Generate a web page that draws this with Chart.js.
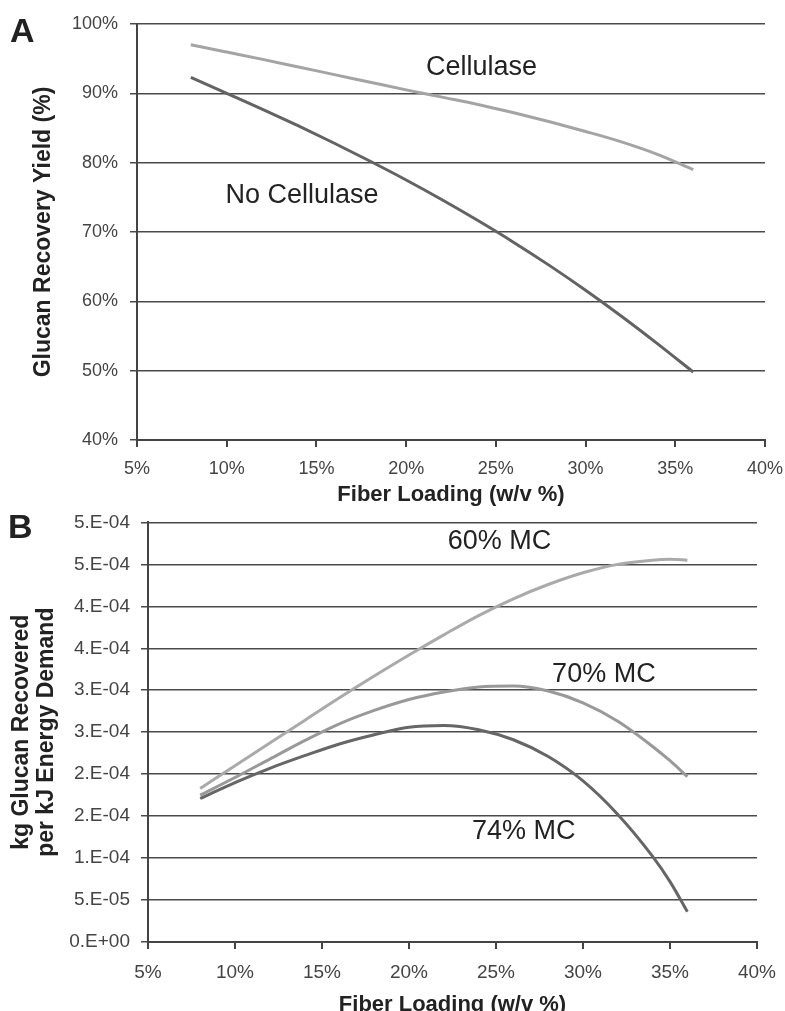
<!DOCTYPE html>
<html>
<head>
<meta charset="utf-8">
<script src="https://cdn.jsdelivr.net/npm/chart.js@4.4.1/dist/chart.umd.min.js"></script>
<style>
  html, body { margin: 0; padding: 0; background: #fff; overflow: hidden; }
  body { width: 785px; height: 1011px; position: relative; font-family: "Liberation Sans", Arial, sans-serif; }
  canvas { position: absolute; left: 0; }
  #chartA { top: 0; }
  #chartB { top: 500px; }
  .tag { position: absolute; font-weight: bold; font-size: 34px; line-height: 1; color: #222; }
</style>
</head>
<body>
<canvas id="chartA" width="785" height="510"></canvas>
<canvas id="chartB" width="785" height="520"></canvas>
<div class="tag" style="left:10px;top:13px">A</div>
<div class="tag" style="left:8px;top:509px">B</div>
<script>
// ---------------------------- data ----------------------------
// panel A: glucan recovery yield (%) vs fiber loading (w/v %)
const loadingA = [8, 10, 12, 14, 16, 18, 20, 22, 24, 26, 28, 30, 32, 34, 36]
const cellulase = [97.0, 95.95, 94.9, 93.8, 92.7, 91.6, 90.5, 89.45, 88.4, 87.2, 85.9, 84.5, 83.0, 81.2, 79.0]
const noCellulase = [92.3, 90.0, 87.7, 85.3, 82.8, 80.2, 77.5, 74.65, 71.65, 68.5, 65.15, 61.6, 57.85, 53.9, 49.8]
const ticksA = ['40%', '50%', '60%', '70%', '80%', '90%', '100%']

// panel B: kg glucan recovered per kJ energy demand
const loadingB = [8, 10, 12, 14, 16, 18, 20, 22, 24, 26, 28, 30, 32, 34, 35, 36]
const mc60 = [1.83e-4, 2.10e-4, 2.37e-4, 2.64e-4, 2.91e-4, 3.17e-4, 3.42e-4, 3.66e-4, 3.89e-4, 4.09e-4, 4.26e-4, 4.40e-4, 4.50e-4, 4.55e-4, 4.56e-4, 4.55e-4]
const mc70 = [1.75e-4, 1.96e-4, 2.18e-4, 2.40e-4, 2.60e-4, 2.76e-4, 2.89e-4, 2.98e-4, 3.04e-4, 3.05e-4, 2.99e-4, 2.85e-4, 2.63e-4, 2.33e-4, 2.16e-4, 1.97e-4]
const mc74 = [1.71e-4, 1.90e-4, 2.07e-4, 2.22e-4, 2.36e-4, 2.47e-4, 2.56e-4, 2.58e-4, 2.53e-4, 2.41e-4, 2.21e-4, 1.92e-4, 1.52e-4, 1.02e-4, 0.72e-4, 0.36e-4]
const ticksB = ['0.E+00', '5.E-05', '1.E-04', '2.E-04', '2.E-04', '3.E-04', '3.E-04', '4.E-04', '4.E-04', '5.E-04', '5.E-04']
const ticksX = ['5%', '10%', '15%', '20%', '25%', '30%', '35%', '40%']

// in-plot series names, anchored in data units
const namesA = [
  { text: 'Cellulase', x: 24.2, y: 93.7 },
  { text: 'No Cellulase', x: 14.2, y: 75.3 },
]
const namesB = [
  { text: '60% MC', x: 25.2, y: 4.77e-4 },
  { text: '70% MC', x: 31.2, y: 3.19e-4 },
  { text: '74% MC', x: 26.6, y: 1.32e-4 },
]

// ---------------------------- helpers ----------------------------
const FONT = '"Liberation Sans", Arial, sans-serif'
const tickFontA = { family: FONT, size: 18 }
const tickFontB = { family: FONT, size: 19 }
const titleFont = { family: FONT, size: 22, weight: 'bold', lineHeight: 1 }
const yTitleFont = { family: FONT, size: 23, weight: 'bold', lineHeight: 1.05 }

const pts = (xs, ys) => xs.map((x, i) => ({ x, y: ys[i] }))

const line = (data, color) => ({
  data, borderColor: color, borderWidth: 3, pointRadius: 0,
  cubicInterpolationMode: 'monotone', fill: false,
})

// draws the series names through the chart scales
const seriesNames = (items) => ({
  id: 'seriesNames',
  afterDatasetsDraw(chart) {
    const { ctx, scales: { x, y } } = chart
    ctx.save()
    ctx.font = '27px ' + FONT
    ctx.fillStyle = '#222'
    ctx.textAlign = 'center'
    ctx.textBaseline = 'middle'
    items.forEach((it) => ctx.fillText(it.text, x.getPixelForValue(it.x), y.getPixelForValue(it.y)))
    ctx.restore()
  },
})

// x axis: fixed height, end labels allowed to hang past the plot edge
const xScale = (height, pad, font) => ({
  type: 'linear', min: 5, max: 40,
  afterFit: (s) => { s.height = height; s.paddingLeft = 0; s.paddingRight = 0 },
  ticks: { stepSize: 5, callback: (v, i) => ticksX[i], font, color: '#444', padding: pad, maxRotation: 0 },
  grid: { drawOnChartArea: false, tickLength: 7, color: '#444', lineWidth: 2 },
  border: { color: '#444', width: 2 },
  title: { display: true, text: 'Fiber Loading (w/v %)', font: titleFont, color: '#222', padding: { top: 0, bottom: 4 } },
})

const baseOptions = {
  responsive: false, animation: false,
  plugins: { legend: { display: false }, tooltip: { enabled: false } },
}

// ---------------------------- panel A ----------------------------
new Chart(document.getElementById('chartA'), {
  type: 'line',
  data: {
    datasets: [
      line(pts(loadingA, cellulase), '#a4a4a4'),
      line(pts(loadingA, noCellulase), '#636363'),
    ],
  },
  options: {
    ...baseOptions,
    layout: { padding: { top: 24, right: 20, bottom: 0, left: 0 } },
    scales: {
      x: xScale(70, 11, tickFontA),
      y: {
        min: 40, max: 100,
        afterFit: (s) => { s.width = 137 },
        ticks: { stepSize: 10, callback: (v, i) => ticksA[i], font: tickFontA, color: '#444', padding: 12 },
        grid: { color: '#4a4a4a', lineWidth: 1.5, tickLength: 7 },
        border: { color: '#444', width: 2 },
        title: { display: true, text: 'Glucan Recovery Yield (%)', font: yTitleFont, color: '#222', padding: { top: 32 } },
      },
    },
  },
  plugins: [seriesNames(namesA)],
})

// ---------------------------- panel B ----------------------------
new Chart(document.getElementById('chartB'), {
  type: 'line',
  data: {
    datasets: [
      line(pts(loadingB, mc60), '#aaaaaa'),
      line(pts(loadingB, mc70), '#999999'),
      line(pts(loadingB, mc74), '#666666'),
    ],
  },
  options: {
    ...baseOptions,
    layout: { padding: { top: 21, right: 28, bottom: 0, left: 0 } },
    scales: {
      x: xScale(78, 12, tickFontB),
      y: {
        min: 0, max: 5e-4,
        afterFit: (s) => { s.width = 148 },
        ticks: { stepSize: 5e-5, callback: (v, i) => ticksB[i], font: tickFontB, color: '#444', padding: 11 },
        grid: { color: '#4a4a4a', lineWidth: 1.5, tickLength: 7 },
        border: { color: '#444', width: 2 },
        title: { display: true, text: ['kg Glucan Recovered', 'per kJ Energy Demand'], font: yTitleFont, color: '#222', padding: { top: 10 } },
      },
    },
  },
  plugins: [seriesNames(namesB)],
})
</script>
</body>
</html>
